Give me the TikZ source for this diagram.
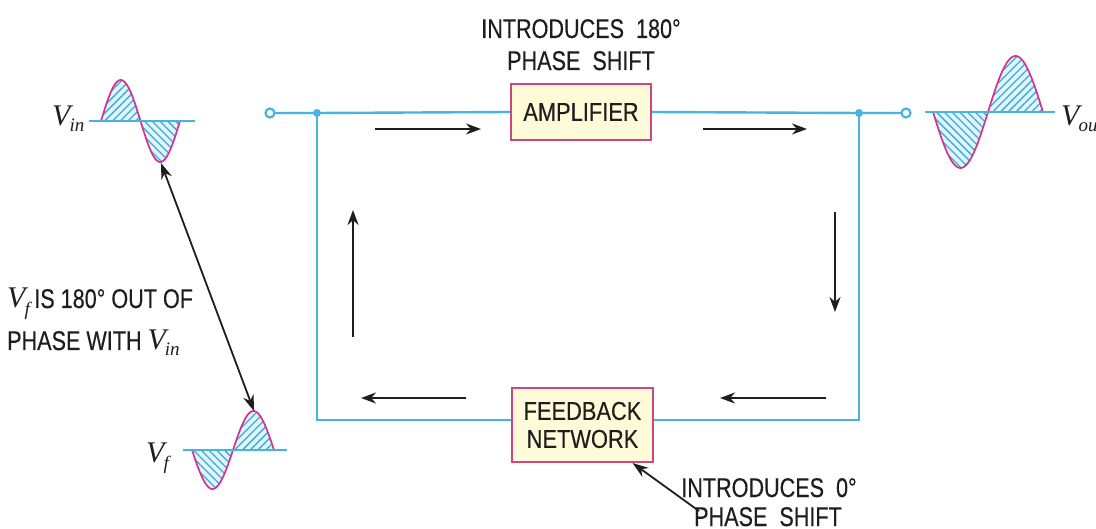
\documentclass[tikz,border=0pt]{standalone}
\usepackage{fontspec}
\usetikzlibrary{arrows.meta,patterns.meta,calc}
\setmainfont{Liberation Sans}
\newfontfamily\labfont[FakeStretch=0.80,FakeBold=0.3]{Liberation Sans}
\newfontfamily\boxfont[FakeStretch=0.84,FakeBold=0.3]{Liberation Sans}
\newfontfamily\vfont{Liberation Serif}
\definecolor{wire}{RGB}{70,180,225}
\definecolor{hatch}{RGB}{60,170,215}
\definecolor{hatchbg}{RGB}{225,245,252}
\definecolor{sinepen}{RGB}{215,50,140}
\definecolor{boxfill}{RGB}{255,250,215}
\definecolor{boxline}{RGB}{205,70,130}
\definecolor{ink}{RGB}{30,30,30}
\newcommand\Vlab[2][6pt]{{\vfont\itshape\fontsize{30}{32}\selectfont V\kern-1pt\raisebox{-#1}{\fontsize{19}{19}\selectfont #2}}}
\newcommand\lobe[5]{%
  \fill[hatchbg] plot[domain=#1:#1+#2,samples=40] (\x,{#3-(#4)*sin(180*(\x-(#1))/(#2))}) -- cycle;
  \fill[pattern={Lines[angle=#5,distance=5.5pt,line width=1.3pt]},pattern color=hatch] plot[domain=#1:#1+#2,samples=40] (\x,{#3-(#4)*sin(180*(\x-(#1))/(#2))}) -- cycle;
  \draw[sinestyle] plot[domain=#1:#1+#2,samples=40] (\x,{#3-(#4)*sin(180*(\x-(#1))/(#2))});
}
\tikzset{
  wirestyle/.style={draw=wire,line width=2.4pt},
  sinestyle/.style={draw=sinepen,line width=1.7pt},
  blockbox/.style={draw=boxline,fill=boxfill,line width=2pt,font=\boxfont\fontsize{26}{28}\selectfont,text=ink,align=center,inner sep=0pt},
  lab/.style={font=\labfont\fontsize{27}{30}\selectfont,text=ink,inner sep=0pt},
  flow/.style={draw=ink,line width=2pt,-{Stealth[length=15pt,width=11pt]}},
  tips/.style={draw=ink,line width=1.8pt},
  term/.style={circle,draw=wire,fill=white,line width=2.2pt,minimum size=9pt,inner sep=0pt},
  junc/.style={circle,fill=wire,minimum size=8pt,inner sep=0pt},
}
\begin{document}
\begin{tikzpicture}[x=1pt,y=-1pt]
\useasboundingbox (0,0) rectangle (1096,529);
\clip (0,0) rectangle (1096,529);
\fill[white] (0,0) rectangle (1096,529);

% blocks
\node[blockbox,minimum width=140pt,minimum height=56pt] (amp) at (581,112) {AMPLIFIER};
\node[blockbox,minimum width=141pt,minimum height=74pt] (fb) at (582.5,425) {FEEDBACK\\NETWORK};

% wiring
\coordinate (tin) at (270,113);
\coordinate (jl) at (317,113);
\coordinate (jr) at (859,113);
\coordinate (tout) at (906,113);
\coordinate (cbr) at (859,420);
\coordinate (cbl) at (317,420);
\draw[wirestyle] (tin) -- (jl) -- (amp.west);
\draw[wirestyle] (amp.east) -- (jr) -- (tout);
\draw[wirestyle] (jr) -- (cbr) -- (cbr -| fb.east);
\draw[wirestyle] (cbl -| fb.west) -- (cbl) -- (jl);
\node[term] (tinc) at (tin) {};
\node[term] (toutc) at (tout) {};
\node[junc] (jlc) at (jl) {};
\node[junc] (jrc) at (jr) {};

% flow arrows
\coordinate (a1s) at (375,129); \coordinate (a1e) at (481,129);
\coordinate (a2s) at (703,129); \coordinate (a2e) at (807,129);
\coordinate (a3s) at (835,212); \coordinate (a3e) at (835,312);
\coordinate (a4s) at (826,398); \coordinate (a4e) at (720,398);
\coordinate (a5s) at (466,398); \coordinate (a5e) at (361,398);
\coordinate (a6s) at (353,337); \coordinate (a6e) at (353,210);
\draw[flow] (a1s) -- (a1e);
\draw[flow] (a2s) -- (a2e);
\draw[flow] (a3s) -- (a3e);
\draw[flow] (a4s) -- (a4e);
\draw[flow] (a5s) -- (a5e);
\draw[flow] (a6s) -- (a6e);

% waves
\lobe{101}{39.5}{121}{41}{45}
\lobe{140.5}{39.5}{121}{-41}{-45}
\draw[wirestyle,line width=2pt] (89,121) -- (195,121);
\lobe{933}{55}{112}{-56}{-45}
\lobe{988}{55}{112}{56}{45}
\draw[wirestyle,line width=2pt] (925,112) -- (1055,112);
\lobe{192}{41}{450}{-39}{-45}
\lobe{233}{41}{450}{39}{45}
\draw[wirestyle,line width=2pt] (183,450) -- (287,450);

% wave labels
\node[anchor=base west,inner sep=0pt,text=ink] (vin) at (52,126) {\Vlab{in}};
\node[anchor=base west,inner sep=0pt,text=ink] (vout) at (1061,126) {\Vlab{out}};
\node[anchor=base west,inner sep=0pt,text=ink] (vf) at (146,462) {\Vlab[8pt]{f}};

% phase arrow between waves
\coordinate (vintr) at (161,163);
\coordinate (vfpk) at (254,411);
\draw[tips,{Stealth[length=16pt,width=11pt]}-{Stealth[length=16pt,width=11pt]}] (vintr) -- (vfpk);

% texts
\node[lab,anchor=base] (t1) at (581,38) {INTRODUCES\ \ 180°};
\node[lab,anchor=base] (t2) at (581,70) {PHASE\ \ SHIFT};
\node[lab,anchor=base] (t3) at (769,497) {INTRODUCES\ \ 0°};
\node[lab,anchor=base] (t4) at (768,526) {PHASE\ \ SHIFT};
\node[lab,anchor=base west] (t5) at (7,308) {\Vlab[8pt]{f}\,IS 180° OUT OF};
\node[lab,anchor=base west] (t6) at (7,350) {PHASE WITH \Vlab{in}};

% arrow to feedback network
\coordinate (fbarr) at (699,511);
\draw[tips,-{Stealth[length=16pt,width=11pt]}] (fbarr) -- ([xshift=50pt]fb.south);
\end{tikzpicture}
\end{document}
